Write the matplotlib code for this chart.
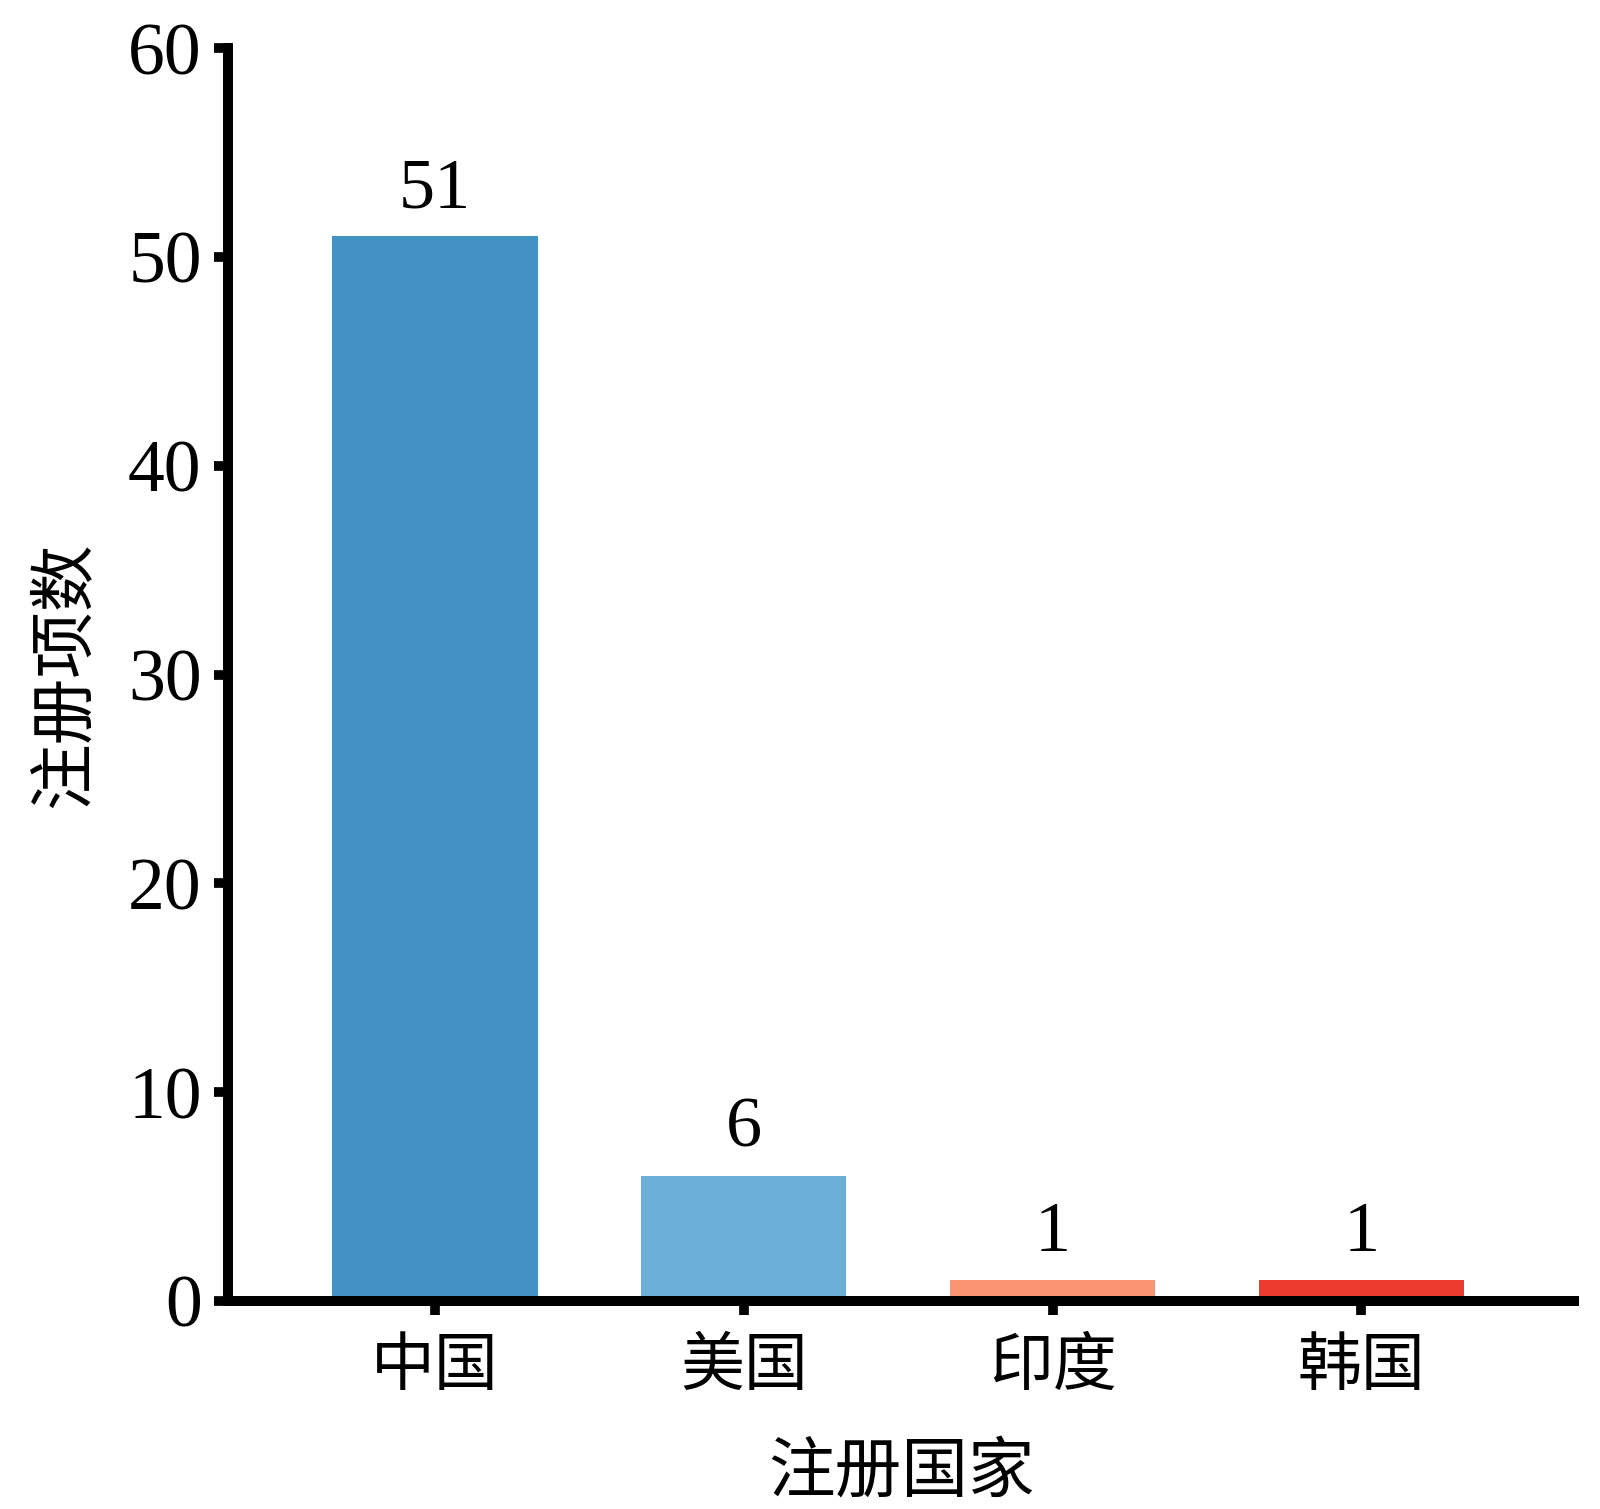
import matplotlib
matplotlib.use('Agg')
import matplotlib.pyplot as plt

plt.rcParams['font.family'] = ['Liberation Serif', 'Noto Sans CJK SC']
plt.rcParams['axes.unicode_minus'] = False

countries = ['中国', '美国', '印度', '韩国']
counts = [51, 6, 1, 1]
colors = ['#4292c6', '#6baed6', '#fb9474', '#ec3b2e']

fig = plt.figure(figsize=(16, 15.09), dpi=100)
ax = fig.add_axes([0.1425, 0.1378, 0.8415, 0.8302])

x = range(len(countries))
bars = ax.bar(x, counts, width=0.665, color=colors)

for b, v in zip(bars, counts):
    ax.annotate(str(v), (b.get_x() + b.get_width() / 2, v),
                xytext=(0, 10), textcoords='offset points',
                ha='center', va='bottom', fontsize=52)

ax.set_xlim(-0.67, 3.69)
ax.set_ylim(0, 60)
ax.set_yticks(range(0, 61, 10))
ax.set_xticks(list(x))
ax.set_xticklabels(countries, fontsize=46)
ax.tick_params(axis='y', labelsize=53, pad=9)
ax.tick_params(axis='x', pad=18)
ax.tick_params(width=7, length=10, direction='out')

for side in ['top', 'right']:
    ax.spines[side].set_visible(False)
for side in ['left', 'bottom']:
    ax.spines[side].set_linewidth(7.2)

ax.set_xlabel('注册国家', fontsize=48, labelpad=32)
ax.set_ylabel('注册项数', fontsize=48, labelpad=22)

fig.savefig('out.png', dpi=100)
